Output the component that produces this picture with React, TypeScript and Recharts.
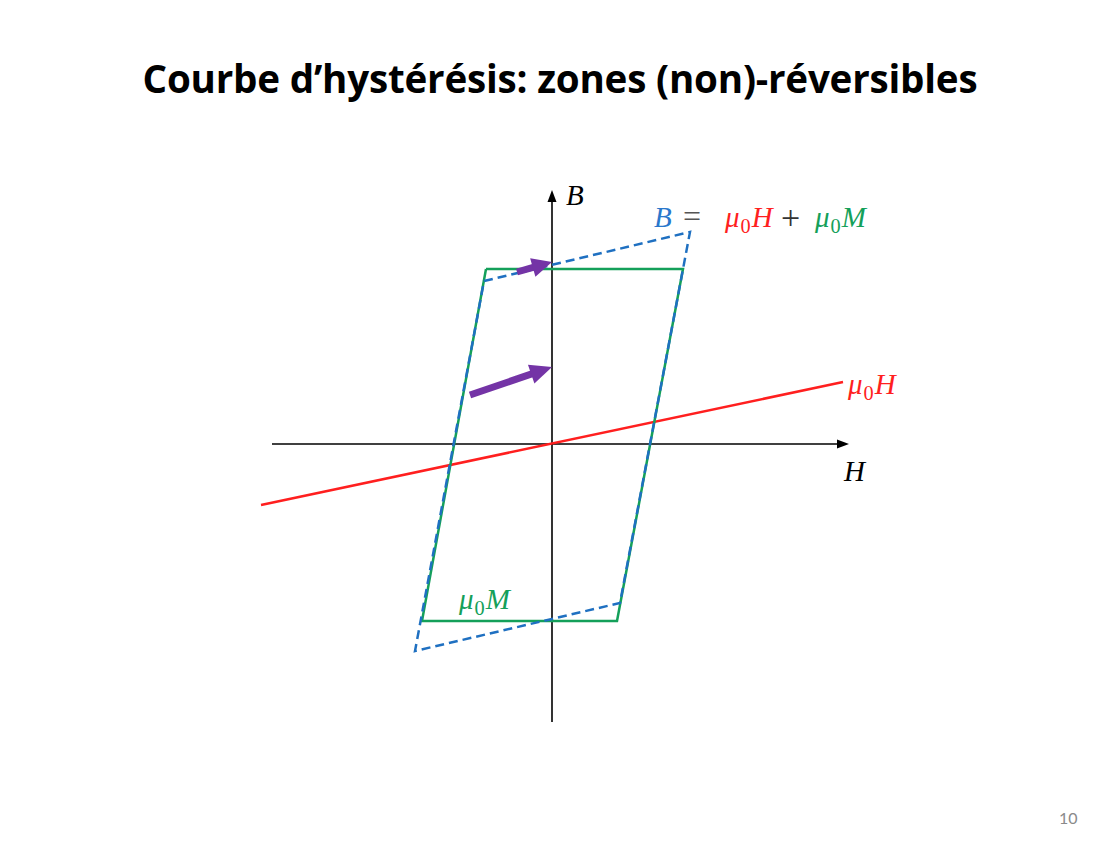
import React from 'react';
import { ScatterChart, Scatter, XAxis, YAxis } from 'recharts';

// Data in (H, B) units
const hAxisLine = [{ x: -2.80, y: 0 }, { x: 2.86, y: 0 }];
const hAxisTip = { x: 2.97, y: 0 };
const bAxisLine = [{ x: 0, y: -2.78 }, { x: 0, y: 2.42 }];
const bAxisTip = { x: 0, y: 2.54 };
const muMLoop = [
  { x: -0.66, y: 1.75 }, { x: 1.31, y: 1.75 }, { x: 0.65, y: -1.77 },
  { x: -1.30, y: -1.77 }, { x: -0.66, y: 1.75 },
];
const bLoop = [
  { x: -0.68, y: 1.63 }, { x: 1.38, y: 2.12 }, { x: 0.68, y: -1.59 },
  { x: -1.37, y: -2.07 }, { x: -0.68, y: 1.63 },
];
const muHLine = [{ x: -2.91, y: -0.61 }, { x: 2.91, y: 0.62 }];
const arrowUpper = [{ x: -0.35, y: 1.72 }, { x: 0.0, y: 1.82 }];
const arrowLower = [{ x: -0.82, y: 0.49 }, { x: 0.0, y: 0.77 }];

const X_DOMAIN = [-5.52, 5.5];
const Y_DOMAIN = [-3.98, 4.44];
const W = 1102;
const H = 842;
const PX = W / (X_DOMAIN[1] - X_DOMAIN[0]);

const GREEN = '#14a05a';
const BLUE = '#1f70c1';
const RED = '#ff1f1f';
const PURPLE = '#7434a6';

const Empty = () => <g />;

function shaft(arrow: { x: number; y: number }[], headLen: number) {
  const [a, b] = arrow;
  const dx = b.x - a.x;
  const dy = b.y - a.y;
  const n = Math.hypot(dx, dy);
  const back = headLen / PX;
  return [a, { x: b.x - (dx / n) * back, y: b.y - (dy / n) * back }];
}

function headShape(arrow: { x: number; y: number }[], len: number, width: number, color: string) {
  const [a, b] = arrow;
  const dx = b.x - a.x;
  const dy = -(b.y - a.y);
  const n = Math.hypot(dx, dy);
  const ux = dx / n;
  const uy = dy / n;
  return (props: any) => {
    const { cx, cy } = props;
    if (cx == null || cy == null) return <g />;
    const bx = cx - ux * len;
    const by = cy - uy * len;
    const nx = -uy * (width / 2);
    const ny = ux * (width / 2);
    const pts = `${cx},${cy} ${bx + nx},${by + ny} ${bx - nx},${by - ny}`;
    return <polygon points={pts} fill={color} stroke="none" />;
  };
}

const mathFont = '"Liberation Serif", "DejaVu Serif", serif';

function Mu0({ letter, color, size }: { letter: string; color: string; size: number }) {
  return (
    <span style={{ color, fontFamily: mathFont, fontSize: size, whiteSpace: 'nowrap' }}>
      <i>μ</i>
      <span style={{ fontSize: size * 0.7, position: 'relative', top: size * 0.2, marginLeft: 1, marginRight: 1 }}>0</span>
      <i>{letter}</i>
    </span>
  );
}

function Placed({ left, baseline, size, children }: { left: number; baseline: number; size: number; children: React.ReactNode }) {
  return (
    <div style={{ position: 'absolute', left, top: baseline - 0.837 * size, lineHeight: 1, fontSize: size, whiteSpace: 'nowrap' }}>
      {children}
    </div>
  );
}

export default function App() {
  const fs = 29;
  const tfs = 38.6;
  return (
    <div style={{ position: 'absolute', left: 0, top: 0, width: W, height: H, background: '#fff', overflow: 'hidden' }}>
      <div style={{ position: 'absolute', left: 0, top: 0 }}>
        <ScatterChart width={W} height={H} margin={{ top: 0, right: 0, bottom: 0, left: 0 }}>
          <XAxis type="number" dataKey="x" domain={X_DOMAIN} hide allowDataOverflow />
          <YAxis type="number" dataKey="y" domain={Y_DOMAIN} hide allowDataOverflow />
          <Scatter data={hAxisLine} line={{ stroke: '#000', strokeWidth: 1.6 }} shape={Empty} isAnimationActive={false} />
          <Scatter data={[hAxisTip]} shape={headShape(hAxisLine, 12, 9, '#000')} isAnimationActive={false} />
          <Scatter data={bAxisLine} line={{ stroke: '#000', strokeWidth: 1.6 }} shape={Empty} isAnimationActive={false} />
          <Scatter data={[bAxisTip]} shape={headShape(bAxisLine, 12, 9, '#000')} isAnimationActive={false} />
          <Scatter data={muHLine} line={{ stroke: RED, strokeWidth: 2.5 }} shape={Empty} isAnimationActive={false} />
          <Scatter data={muMLoop} line={{ stroke: GREEN, strokeWidth: 2.5, strokeLinejoin: 'miter' }} shape={Empty} isAnimationActive={false} />
          <Scatter data={bLoop} line={{ stroke: BLUE, strokeWidth: 2.5, strokeDasharray: '9 5' }} shape={Empty} isAnimationActive={false} />
          <Scatter data={shaft(arrowUpper, 16)} line={{ stroke: PURPLE, strokeWidth: 7 }} shape={Empty} isAnimationActive={false} />
          <Scatter data={[arrowUpper[1]]} shape={headShape(arrowUpper, 20, 19, PURPLE)} isAnimationActive={false} />
          <Scatter data={shaft(arrowLower, 16)} line={{ stroke: PURPLE, strokeWidth: 7 }} shape={Empty} isAnimationActive={false} />
          <Scatter data={[arrowLower[1]]} shape={headShape(arrowLower, 22, 20, PURPLE)} isAnimationActive={false} />
        </ScatterChart>
      </div>

      <div style={{ position: 'absolute', left: 0, width: W, top: 93 - 0.837 * tfs - 2, textAlign: 'center', fontFamily: '"Open Sans", Lato, sans-serif', fontWeight: 700, fontSize: tfs, lineHeight: 1, color: '#000', paddingLeft: 18, boxSizing: 'border-box', letterSpacing: -0.2 }}>
        Courbe d’hystérésis: zones (non)-réversibles
      </div>

      <Placed left={566} baseline={205} size={fs}>
        <i style={{ fontFamily: mathFont, color: '#000' }}>B</i>
      </Placed>
      <Placed left={844} baseline={481} size={fs}>
        <i style={{ fontFamily: mathFont, color: '#000' }}>H</i>
      </Placed>
      <Placed left={848} baseline={394} size={fs}>
        <Mu0 letter="H" color={RED} size={fs} />
      </Placed>
      <Placed left={459} baseline={609} size={fs}>
        <Mu0 letter="M" color={GREEN} size={fs} />
      </Placed>

      <Placed left={654} baseline={227} size={fs}>
        <i style={{ fontFamily: mathFont, color: '#2a78cc' }}>B</i>
      </Placed>
      <Placed left={683} baseline={227} size={32}>
        <span style={{ fontFamily: mathFont, color: '#555' }}>=</span>
      </Placed>
      <Placed left={725} baseline={227} size={fs}>
        <Mu0 letter="H" color={RED} size={fs} />
      </Placed>
      <Placed left={781} baseline={229} size={34}>
        <span style={{ fontFamily: mathFont, color: '#333' }}>+</span>
      </Placed>
      <Placed left={815} baseline={227} size={fs}>
        <Mu0 letter="M" color={GREEN} size={fs} />
      </Placed>

      <div style={{ position: 'absolute', left: 1059, top: 810, fontFamily: 'Lato, sans-serif', fontSize: 16, color: '#8a8a8a', lineHeight: 1 }}>
        10
      </div>
    </div>
  );
}
